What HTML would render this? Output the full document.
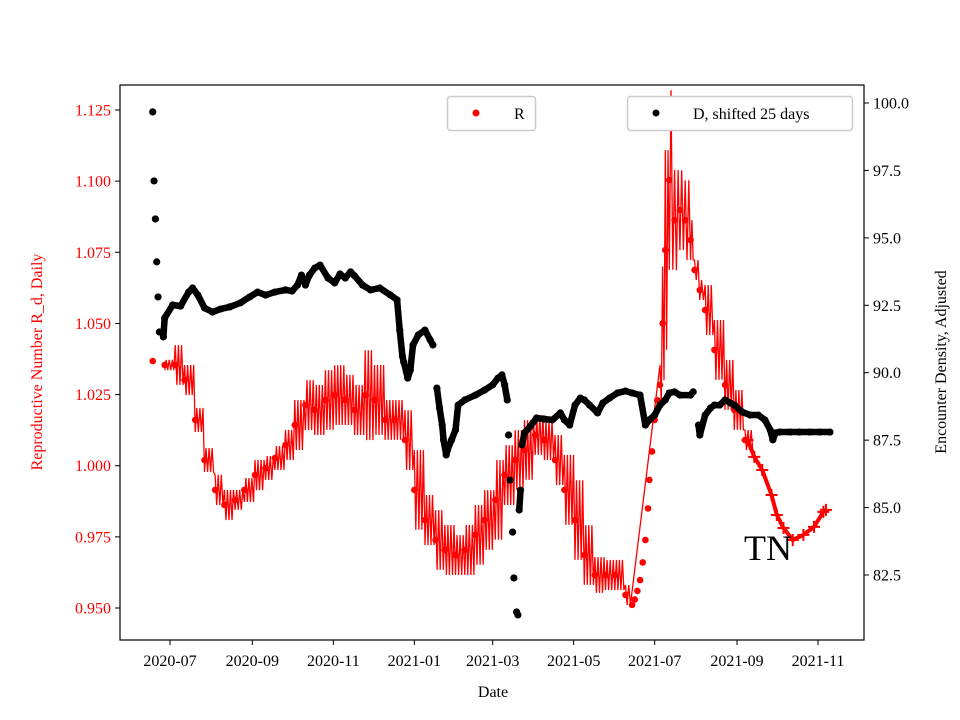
<!DOCTYPE html>
<html><head><meta charset="utf-8"><style>
body{margin:0;background:#fff;}
svg{display:block;font-family:"Liberation Serif","DejaVu Serif",serif;}
</style></head><body>
<svg id="chart" width="960" height="720" xmlns="http://www.w3.org/2000/svg">
<rect width="960" height="720" fill="#fff"/>
<g id="plot"></g>
<rect x="120" y="85" width="744" height="555" fill="none" stroke="#000" stroke-width="1.2"/>
<g id="axes"></g>
<text x="493" y="697" font-size="16" text-anchor="middle">Date</text>
<text transform="translate(42,362) rotate(-90)" font-size="16" fill="red" text-anchor="middle">Reproductive Number R_d, Daily</text>
<text transform="translate(946,362) rotate(-90)" font-size="16" text-anchor="middle">Encounter Density, Adjusted</text>
<text x="768" y="560" font-size="36" text-anchor="middle">TN</text>
<g>
<rect x="447.5" y="96.5" width="88" height="34" rx="3" fill="#fff" stroke="#ccc" stroke-width="1.5"/>
<circle cx="476" cy="113" r="3.5" fill="red"/>
<text x="514" y="119" font-size="16">R</text>
</g>
<g>
<rect x="627.5" y="96.5" width="225" height="34" rx="3" fill="#fff" stroke="#ccc" stroke-width="1.5"/>
<circle cx="656" cy="113" r="3.5" fill="#000"/>
<text x="693" y="119" font-size="16">D, shifted 25 days</text>
</g>
</svg>
<script>
// R series: day offsets from 2020-07-01, centre values, half-range of daily oscillation
const rDays=[-13,-4,4,11,19,26,34,41,49,56,64,72,79,87,94,102,109,117,124,132,139,147,154,162,169,177,184,192,200,207,215,222,230,237,245,252,260,267,275,282,290,297,305,312,320,328,335,343,348,350,352,354,356,358,360,361,363,365,367,369,371,373,376,380,384,388,392,395,399,403,410,418,425,433];
const rVals=[1.0368,1.0354,1.0354,1.0301,1.0161,1.0020,0.9915,0.9862,0.9880,0.9915,0.9967,0.9992,1.0027,1.0073,1.0143,1.0213,1.0196,1.0231,1.0248,1.0231,1.0196,1.0248,1.0231,1.0161,1.0161,1.0090,0.9915,0.9809,0.9739,0.9704,0.9686,0.9704,0.9757,0.9809,0.9880,0.9967,1.0020,1.0055,1.0108,1.0090,1.0020,0.9915,0.9809,0.9686,0.9616,0.9616,0.9616,0.9546,0.9511,0.9530,0.9560,0.9598,0.9660,0.9739,0.9850,0.9950,1.0050,1.0161,1.0230,1.0284,1.0500,1.0758,1.1004,1.0863,1.0898,1.0863,1.0793,1.0688,1.0617,1.0547,1.0407,1.0284,1.0196,1.0090];
const rAmp=[0,0.0018,0.007,0.0053,0.0042,0.0042,0.0053,0.0053,0.0035,0.0042,0.0053,0.0042,0.0042,0.0053,0.0088,0.0088,0.0088,0.0105,0.0105,0.0088,0.0088,0.0158,0.0123,0.007,0.007,0.0105,0.014,0.0088,0.0105,0.0088,0.007,0.0088,0.0105,0.0105,0.014,0.0105,0.0105,0.0105,0.007,0.007,0.0088,0.0123,0.014,0.0105,0.0063,0.0053,0.0053,0.0035,0,0,0,0,0,0,0,0,0,0,0,0.007,0.02,0.0351,0.0316,0.0176,0.014,0.014,0.007,0.0035,0.0035,0.0088,0.0105,0.0088,0.007,0.0035];
// R forecast (+ markers)
const fDays=[435,440,446,453,457,462,469,477,485,492,494];
const fVals=[1.0090,1.0031,0.9985,0.9897,0.9827,0.9781,0.9739,0.9757,0.9785,0.9838,0.9845];
// D series
const dDays=[-13,-12,-11,-10,-9,-8,-5,-4,2,8,14,17,21,26,32,38,45,53,60,66,72,79,87,92,96,99,102,105,109,113,119,124,128,132,136,139,145,151,158,166,171,173,175,176,178,179,181,183,187,192,196,198,201,203,205,206,208,209,212,215,217,222,230,237,243,247,250,252,254,255,256,258,259,261,262,263,264,265,267,271,276,282,288,294,297,301,305,309,312,316,322,326,331,337,343,348,354,358,361,365,369,373,376,380,384,392,394,398,399,403,407,410,414,418,422,425,431,437,443,448,452,454,456,459,467,474,482,489,497];
const dVals=[99.67,97.11,95.70,94.11,92.81,91.51,91.33,92.03,92.51,92.47,92.99,93.14,92.88,92.40,92.25,92.36,92.44,92.59,92.81,92.99,92.88,92.99,93.07,93.03,93.25,93.62,93.25,93.62,93.88,93.99,93.51,93.33,93.66,93.51,93.74,93.59,93.25,93.07,93.14,92.88,92.70,91.58,90.62,90.40,90.03,89.80,90.10,91.03,91.40,91.58,91.21,91.03,89.43,88.69,88.06,87.51,86.95,87.14,87.51,87.88,88.80,88.99,89.17,89.36,89.55,89.80,89.92,89.55,88.99,87.69,86.02,84.09,82.39,81.13,81.02,84.91,85.65,87.32,87.77,87.99,88.32,88.28,88.25,88.51,88.25,88.06,88.80,89.06,88.99,88.80,88.51,88.88,89.06,89.25,89.32,89.25,89.17,88.06,88.25,88.43,88.80,88.99,89.25,89.29,89.17,89.17,89.29,88.06,87.69,88.43,88.69,88.80,88.80,88.99,88.88,88.80,88.54,88.43,88.43,88.25,87.88,87.51,87.77,87.80,87.80,87.80,87.80,87.80,87.80];
const xTickDays=[0,62,123,184,243,304,365,427,488];
const xTickLabels=["2020-07","2020-09","2020-11","2021-01","2021-03","2021-05","2021-07","2021-09","2021-11"];
const lTicks=[0.950,0.975,1.000,1.025,1.050,1.075,1.100,1.125];
const rTicks=[82.5,85.0,87.5,90.0,92.5,95.0,97.5,100.0];

const NS="http://www.w3.org/2000/svg";
const X=d=>170+d*(648/488);
const YL=v=>608-(v-0.95)/0.025*(498/7);
const YR=v=>575-(v-82.5)/2.5*(472/7);
const plot=document.getElementById('plot'), axes=document.getElementById('axes');
function mk(tag,attrs,parent){const e=document.createElementNS(NS,tag);for(const k in attrs)e.setAttribute(k,attrs[k]);parent.appendChild(e);return e;}

xTickDays.forEach((d,i)=>{
  const t=mk('line',{x1:X(d),x2:X(d),y1:640,y2:645,stroke:'#000'},axes);
  
  
  const l=mk('text',{x:X(d),y:666,'font-size':16,'text-anchor':'middle'},axes);
  l.textContent=xTickLabels[i];
  
  
});
lTicks.forEach(v=>{
  const t=mk('line',{x1:115,x2:120,y1:YL(v),y2:YL(v),stroke:'#000'},axes);
  
  
  const l=mk('text',{x:111,y:YL(v)+5.5,'font-size':16,'text-anchor':'end',fill:'red'},axes);
  l.textContent=v.toFixed(3);
  
  
});
rTicks.forEach(v=>{
  const t=mk('line',{x1:864,x2:869,y1:YR(v),y2:YR(v),stroke:'#000'},axes);
  
  
  const l=mk('text',{x:873,y:YR(v)+5.5,'font-size':16,fill:'#000'},axes);
  l.textContent=v.toFixed(1);
  
  
});

// R daily oscillation drawn as dense vertical strokes between sampled centres
let pts=[];
for(let i=0;i<rDays.length;i++){
  if(rAmp[i]===0) continue;
  const next=i<rDays.length-1?rDays[i+1]:rDays[i]+7;
  const step=(next-rDays[i]);
  const n=Math.max(1,Math.round(step/1.2));
  for(let k=0;k<n;k++){
    const d=rDays[i]+k*step/n;
    const s=(pts.length%2?1:-1);
    pts.push(X(d).toFixed(1)+','+YL(rVals[i]+s*rAmp[i]).toFixed(1));
  }
}
const zig=mk('polyline',{points:pts.join(' '),fill:'none',stroke:'red','stroke-width':1.3},plot);


rDays.forEach((d,i)=>{
  const c=mk('circle',{cx:X(d),cy:YL(rVals[i]),r:3.3,fill:'red'},plot);
  
  
});
fDays.forEach((d,i)=>{
  const x=X(d),y=YL(fVals[i]);
  const p=mk('path',{d:`M${x-6},${y}H${x+6}M${x},${y-6}V${y+6}`,stroke:'red','stroke-width':2},plot);
  
  
});
const fl=mk('polyline',{points:fDays.map((d,i)=>X(d)+','+YL(fVals[i])).join(' '),fill:'none',stroke:'red','stroke-width':4},plot);



// D series
for(let i=1;i<dDays.length;i++){
  const x1=X(dDays[i-1]),y1=YR(dVals[i-1]),x2=X(dDays[i]),y2=YR(dVals[i]);
  if(dDays[i]-dDays[i-1]<=9 && Math.abs(y2-y1)<32 && dDays[i]>-5){
    const s=mk('line',{x1:x1,y1:y1,x2:x2,y2:y2,stroke:'#000','stroke-width':6.5,'stroke-linecap':'round'},plot);
    
    
  }
}
dDays.forEach((d,i)=>{
  const c=mk('circle',{cx:X(d),cy:YR(dVals[i]),r:3.6,fill:'#000'},plot);
  
  
});
</script>
</body></html>
